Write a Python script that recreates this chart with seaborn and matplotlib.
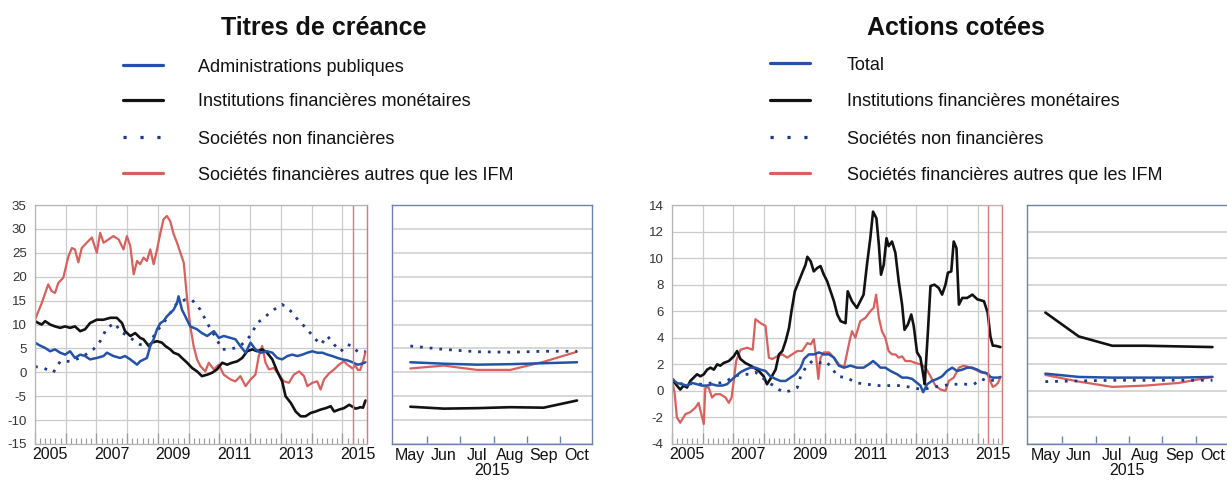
import numpy as np
import matplotlib
matplotlib.use("Agg")
import matplotlib.pyplot as plt
from matplotlib.lines import Line2D
from matplotlib.ticker import MultipleLocator, FuncFormatter, NullFormatter
import seaborn as sns

# ---------------- DATA ----------------
recent_months = ["May", "Jun", "Jul", "Aug", "Sep", "Oct"]
recent_t = [2015.33, 2015.42, 2015.50, 2015.58, 2015.67, 2015.75]

# ---- Titres de créance (debt securities) ----
debt_title = "Titres de créance"
debt_labels = ["Administrations publiques", "Institutions financières monétaires",
               "Sociétés non financières", "Sociétés financières autres que les IFM"]

debt_gov_t = [2005.00, 2005.16, 2005.33, 2005.49, 2005.65, 2005.82, 2005.98, 2006.14, 2006.30, 2006.47,
              2006.63, 2006.79, 2007.01, 2007.23, 2007.34, 2007.55, 2007.77, 2007.93, 2008.10, 2008.32,
              2008.42, 2008.64, 2008.75, 2008.86, 2008.97, 2009.08, 2009.18, 2009.29, 2009.40, 2009.51,
              2009.62, 2009.67, 2009.78, 2009.89, 2010.05, 2010.27, 2010.43, 2010.60, 2010.82, 2010.98,
              2011.14, 2011.36, 2011.52, 2011.68, 2011.85, 2012.01, 2012.17, 2012.34, 2012.55, 2012.72,
              2012.88, 2013.04, 2013.21, 2013.37, 2013.53, 2013.70, 2013.86, 2014.02, 2014.18, 2014.35,
              2014.51, 2014.67, 2014.84, 2015.00, 2015.16]
debt_gov_v = [6.2, 5.6, 5.1, 4.4, 4.8, 4.1, 3.7, 4.4, 3.0, 3.7,
              3.4, 2.7, 3.0, 3.4, 4.1, 3.4, 3.0, 3.4, 2.7, 1.6,
              2.3, 3.0, 5.5, 6.9, 9.0, 10.3, 10.7, 11.7, 12.4, 13.1,
              14.5, 15.9, 13.1, 11.7, 9.6, 9.0, 8.2, 7.6, 8.6, 7.2,
              7.6, 7.2, 6.9, 5.5, 4.1, 6.2, 4.8, 4.1, 4.4, 4.1,
              3.0, 2.7, 3.4, 3.7, 3.4, 3.7, 4.1, 4.4, 4.1, 4.1,
              3.7, 3.4, 3.0, 2.7, 2.5]
debt_gov_recent = [2.1, 1.8, 1.6, 1.7, 1.9, 2.1]

debt_mfi_t = [2005.00, 2005.11, 2005.22, 2005.33, 2005.49, 2005.65, 2005.82, 2005.98, 2006.14, 2006.30,
              2006.47, 2006.63, 2006.79, 2007.01, 2007.23, 2007.45, 2007.66, 2007.83, 2007.93, 2008.10,
              2008.26, 2008.42, 2008.53, 2008.70, 2008.80, 2008.97, 2009.13, 2009.24, 2009.40, 2009.51,
              2009.67, 2009.78, 2009.95, 2010.11, 2010.27, 2010.43, 2010.60, 2010.76, 2010.92, 2011.09,
              2011.25, 2011.41, 2011.58, 2011.74, 2011.90, 2012.07, 2012.23, 2012.39, 2012.55, 2012.72,
              2012.88, 2013.04, 2013.15, 2013.32, 2013.48, 2013.64, 2013.80, 2013.97, 2014.13, 2014.29,
              2014.46, 2014.62, 2014.73, 2014.89, 2015.05, 2015.22]
debt_mfi_v = [10.7, 10.3, 10.0, 10.7, 10.0, 9.6, 9.3, 9.6, 9.3, 9.6,
              8.6, 9.0, 10.3, 11.0, 11.0, 11.4, 11.4, 10.3, 8.6, 7.6,
              8.2, 7.2, 6.9, 5.5, 6.2, 6.5, 6.2, 5.5, 4.8, 4.1,
              3.7, 3.0, 2.0, 0.9, 0.2, -0.8, -0.5, -0.1, 0.6, 2.0,
              1.6, 2.0, 2.3, 3.0, 4.4, 4.8, 4.4, 4.8, 4.1, 2.7,
              0.2, -1.9, -5.0, -6.4, -8.2, -9.2, -9.2, -8.5, -8.2, -7.8,
              -7.5, -7.1, -8.2, -7.8, -7.5, -6.8]
debt_mfi_recent = [-7.2, -7.6, -7.5, -7.3, -7.4, -5.9]

debt_nfc_t = [2005.00, 2005.27, 2005.60, 2005.82, 2006.20, 2006.58, 2006.90, 2007.12, 2007.34, 2007.60,
              2007.77, 2008.10, 2008.42, 2008.70, 2008.91, 2009.18, 2009.40, 2009.62, 2009.89, 2010.10,
              2010.38, 2010.60, 2010.82, 2011.09, 2011.36, 2011.68, 2012.00, 2012.23, 2012.50, 2012.77,
              2013.04, 2013.32, 2013.59, 2013.86, 2014.08, 2014.30, 2014.51, 2014.73, 2014.95, 2015.16]
debt_nfc_v = [1.2, 0.9, 0.0, 2.3, 2.3, 3.4, 4.8, 6.5, 9.3, 10.3,
              8.6, 7.2, 5.8, 5.5, 8.2, 10.3, 12.4, 14.5, 15.2, 15.2,
              13.1, 10.3, 7.9, 4.8, 4.8, 5.5, 7.6, 10.3, 11.7, 13.1,
              14.2, 12.8, 10.7, 9.0, 7.2, 5.8, 7.6, 5.8, 4.4, 5.8]
debt_nfc_recent = [5.5, 4.8, 4.3, 4.2, 4.4, 4.4]

debt_ofi_t = [2005.00, 2005.22, 2005.43, 2005.54, 2005.65, 2005.76, 2005.92, 2006.09, 2006.20, 2006.30,
              2006.41, 2006.52, 2006.68, 2006.85, 2007.01, 2007.12, 2007.23, 2007.39, 2007.55, 2007.72,
              2007.88, 2007.99, 2008.10, 2008.21, 2008.32, 2008.42, 2008.53, 2008.64, 2008.75, 2008.86,
              2008.97, 2009.08, 2009.18, 2009.29, 2009.40, 2009.51, 2009.62, 2009.73, 2009.84, 2009.95,
              2010.05, 2010.16, 2010.27, 2010.38, 2010.54, 2010.65, 2010.82, 2010.98, 2011.14, 2011.36,
              2011.52, 2011.68, 2011.85, 2012.01, 2012.17, 2012.28, 2012.39, 2012.50, 2012.61, 2012.77,
              2012.93, 2013.10, 2013.26, 2013.42, 2013.59, 2013.75, 2013.86, 2014.02, 2014.18, 2014.29,
              2014.40, 2014.57, 2014.73, 2014.89, 2015.05, 2015.16]
debt_ofi_v = [11.0, 14.5, 18.4, 17.0, 16.6, 18.7, 19.8, 24.3, 26.0, 25.7,
              23.0, 26.0, 27.1, 28.2, 25.0, 29.2, 27.1, 27.8, 28.5, 27.8,
              25.7, 28.5, 26.4, 20.5, 23.3, 22.6, 24.0, 23.3, 25.7, 22.6,
              25.7, 29.2, 32.0, 32.7, 31.6, 28.9, 27.1, 25.0, 22.9, 15.2,
              9.7, 5.5, 2.7, 1.3, 0.2, 2.0, 0.6, 1.6, -0.5, -1.5,
              -1.9, -0.8, -2.9, -1.5, -0.5, 3.4, 5.5, 2.0, 0.6, 0.9,
              -0.5, -1.9, -2.2, -0.5, 0.2, -0.8, -2.9, -2.2, -1.9, -3.6,
              -1.5, -0.2, 0.6, 1.6, 2.3, 1.6]
debt_ofi_recent = [0.8, 1.4, 0.5, 0.5, 2.2, 4.3]

# ---- Actions cotées (listed shares) ----
eq_title = "Actions cotées"
eq_labels = ["Total", "Institutions financières monétaires",
             "Sociétés non financières", "Sociétés financières autres que les IFM"]

eq_tot_t = [2005.00, 2005.16, 2005.33, 2005.49, 2005.66, 2005.82, 2005.98, 2006.15, 2006.31, 2006.47,
            2006.64, 2006.80, 2006.91, 2007.08, 2007.24, 2007.40, 2007.57, 2007.73, 2007.90, 2008.06,
            2008.22, 2008.39, 2008.55, 2008.72, 2008.88, 2009.04, 2009.21, 2009.32, 2009.48, 2009.65,
            2009.81, 2009.97, 2010.14, 2010.30, 2010.46, 2010.63, 2010.84, 2011.05, 2011.27, 2011.44,
            2011.58, 2011.71, 2011.82, 2011.98, 2012.15, 2012.37, 2012.53, 2012.70, 2012.86, 2013.02,
            2013.13, 2013.22, 2013.35, 2013.51, 2013.68, 2013.84, 2014.00, 2014.17, 2014.33, 2014.50,
            2014.66, 2014.82, 2014.99, 2015.15]
eq_tot_v = [0.9, 0.6, 0.5, 0.4, 0.6, 0.5, 0.4, 0.4, 0.5, 0.4,
            0.4, 0.5, 0.75, 1.1, 1.4, 1.6, 1.75, 1.75, 1.6, 1.5,
            1.1, 0.9, 0.75, 0.75, 1.0, 1.25, 1.75, 2.4, 2.75, 2.75,
            2.9, 2.75, 2.75, 2.5, 1.9, 1.75, 1.9, 1.75, 1.75, 2.0,
            2.25, 2.0, 1.75, 1.75, 1.5, 1.25, 1.0, 1.0, 0.9, 0.6,
            0.4, -0.1, 0.5, 0.75, 0.9, 1.1, 1.5, 1.75, 1.5, 1.6,
            1.75, 1.75, 1.6, 1.4]
eq_tot_recent = [1.3, 1.05, 1.0, 1.0, 1.0, 1.05]

eq_mfi_t = [2005.00, 2005.16, 2005.27, 2005.38, 2005.49, 2005.60, 2005.71, 2005.82, 2005.93, 2006.04,
            2006.15, 2006.26, 2006.37, 2006.48, 2006.58, 2006.69, 2006.86, 2007.02, 2007.13, 2007.24,
            2007.40, 2007.57, 2007.68, 2007.84, 2008.00, 2008.11, 2008.22, 2008.39, 2008.50, 2008.61,
            2008.72, 2008.83, 2008.91, 2009.02, 2009.15, 2009.28, 2009.37, 2009.43, 2009.54, 2009.64,
            2009.75, 2009.86, 2009.97, 2010.08, 2010.19, 2010.30, 2010.41, 2010.52, 2010.68, 2010.75,
            2010.89, 2011.05, 2011.16, 2011.27, 2011.38, 2011.49, 2011.58, 2011.69, 2011.77, 2011.84,
            2011.93, 2012.02, 2012.09, 2012.20, 2012.31, 2012.42, 2012.53, 2012.61, 2012.72, 2012.83,
            2012.91, 2013.02, 2013.13, 2013.22, 2013.27, 2013.37, 2013.46, 2013.59, 2013.73, 2013.84,
            2013.95, 2014.03, 2014.14, 2014.22, 2014.31, 2014.39, 2014.50, 2014.66, 2014.83, 2014.99,
            2015.21]
eq_mfi_v = [0.9, 0.4, 0.1, 0.4, 0.25, 0.75, 1.0, 1.25, 1.1, 1.25,
            1.6, 1.75, 1.6, 2.0, 1.9, 2.1, 2.25, 2.6, 3.0, 2.4,
            2.1, 1.9, 1.75, 1.5, 1.1, 0.5, 0.9, 1.6, 2.75, 3.0,
            3.75, 4.75, 6.0, 7.5, 8.25, 9.0, 9.5, 10.1, 9.75, 9.0,
            9.25, 9.4, 8.75, 8.25, 7.5, 6.75, 5.75, 5.25, 5.1, 7.5,
            6.75, 6.25, 6.75, 7.25, 9.5, 11.5, 13.5, 13.0, 11.0, 8.75,
            9.5, 11.5, 10.9, 11.25, 10.4, 8.25, 6.5, 4.6, 5.0, 5.75,
            4.9, 2.9, 2.5, 1.25, 0.5, 4.25, 7.9, 8.0, 7.75, 7.25,
            8.0, 8.9, 9.0, 11.25, 10.75, 6.5, 7.0, 7.0, 7.25, 6.9,
            6.75]
eq_mfi_recent = [5.9, 4.1, 3.4, 3.4, 3.35, 3.3]

eq_nfc_t = [2005.00, 2005.22, 2005.44, 2005.71, 2005.98, 2006.31, 2006.58, 2006.80, 2007.02, 2007.30,
            2007.57, 2007.73, 2007.95, 2008.17, 2008.33, 2008.50, 2008.66, 2008.85, 2009.10, 2009.21,
            2009.37, 2009.59, 2009.81, 2009.97, 2010.19, 2010.41, 2010.70, 2011.05, 2011.38, 2011.77,
            2012.10, 2012.48, 2012.86, 2013.19, 2013.51, 2013.84, 2014.22, 2014.55, 2014.88, 2015.15]
eq_nfc_v = [0.9, 0.5, 0.6, 0.5, 0.5, 0.6, 0.6, 0.75, 1.1, 1.25,
            1.25, 1.4, 1.0, 0.6, 0.4, 0.1, -0.1, 0.0, 0.25, 1.1,
            1.75, 2.25, 2.1, 2.25, 1.9, 1.1, 1.0, 0.6, 0.5, 0.4,
            0.4, 0.4, 0.25, 0.1, 0.25, 0.4, 0.5, 0.5, 0.5, 0.9]
eq_nfc_recent = [0.7, 0.75, 0.8, 0.8, 0.8, 0.8]

eq_ofi_t = [2005.00, 2005.09, 2005.16, 2005.27, 2005.44, 2005.60, 2005.77, 2005.87, 2005.96, 2006.04,
            2006.09, 2006.20, 2006.31, 2006.42, 2006.58, 2006.75, 2006.86, 2006.95, 2007.02, 2007.10,
            2007.24, 2007.46, 2007.64, 2007.73, 2007.90, 2008.06, 2008.17, 2008.28, 2008.44, 2008.61,
            2008.77, 2008.93, 2009.10, 2009.26, 2009.43, 2009.54, 2009.64, 2009.72, 2009.79, 2009.86,
            2009.97, 2010.14, 2010.30, 2010.46, 2010.63, 2010.81, 2010.89, 2011.00, 2011.16, 2011.33,
            2011.49, 2011.60, 2011.68, 2011.77, 2011.87, 2011.98, 2012.09, 2012.20, 2012.31, 2012.42,
            2012.53, 2012.64, 2012.80, 2012.97, 2013.13, 2013.30, 2013.46, 2013.62, 2013.79, 2013.95,
            2014.06, 2014.22, 2014.39, 2014.55, 2014.77, 2014.93, 2015.10, 2015.26]
eq_ofi_v = [0.9, -0.25, -2.0, -2.4, -1.75, -1.6, -1.25, -0.9, -1.75, -2.5,
            0.25, 0.25, -0.5, -0.25, -0.25, -0.5, -0.9, -0.5, 0.75, 2.25,
            3.1, 3.25, 3.1, 5.4, 5.1, 4.9, 2.5, 2.4, 2.6, 2.75,
            2.5, 2.75, 3.0, 3.0, 3.6, 3.5, 3.9, 2.5, 0.9, 2.5,
            2.9, 2.9, 2.5, 2.0, 1.75, 3.75, 4.5, 4.0, 5.25, 5.5,
            6.0, 6.25, 7.25, 5.5, 4.5, 4.0, 3.0, 2.75, 2.75, 2.5,
            2.6, 2.25, 2.25, 2.1, 2.0, 1.75, 1.1, 0.4, 0.1, 0.0,
            0.75, 1.0, 1.75, 1.9, 1.75, 1.6, 1.4, 1.4]
eq_ofi_recent = [1.2, 0.7, 0.3, 0.4, 0.6, 1.05]

# ---------------- STYLE ----------------
sns.set_style("white")
plt.rcParams['font.family'] = ['Liberation Sans', 'DejaVu Sans']
plt.rcParams['axes.unicode_minus'] = False

BLUE = '#2452a8'
NAVY = '#1d3a8a'
BLACK = '#121212'
RED = '#d9605c'
GRID = '#cbcbcb'
FRAME = '#b5b5b5'
FRAME_IN = '#6e81ad'
HIL = '#d97878'
DOT = (0, (1, 2.5))

styles = [dict(color=BLUE, linestyle='-', linewidth=1.8),
          dict(color=BLACK, linestyle='-', linewidth=1.9),
          dict(color=NAVY, linestyle=DOT, linewidth=2.0),
          dict(color=RED, linestyle='-', linewidth=1.6)]
draw_order = [3, 1, 2, 0]

W, H = 1227, 480
fig = plt.figure(figsize=(W / 100, H / 100), dpi=100)


def rect(x0, x1, y0=205, y1=444):
    return [x0 / W, 1 - y1 / H, (x1 - x0) / W, (y1 - y0) / H]


def year_label(x, pos):
    yr = int(round(x - 0.5))
    if abs(x - yr - 0.5) < 0.02 and yr % 2 == 1:
        return str(yr)
    return ""


def draw_main(ax, ts, vs, recents, ylim, ystep):
    for i in draw_order:
        sns.lineplot(x=list(ts[i]) + recent_t, y=list(vs[i]) + recents[i], ax=ax,
                     estimator=None, sort=False, legend=False, **styles[i])
    ax.set_xlim(2005, 2015.8)
    ax.set_ylim(*ylim)
    ax.xaxis.set_major_locator(MultipleLocator(1))
    ax.xaxis.set_minor_locator(MultipleLocator(1 / 6))
    ax.xaxis.set_major_formatter(NullFormatter())
    ax.xaxis.set_minor_formatter(FuncFormatter(year_label))
    ax.yaxis.set_major_locator(MultipleLocator(ystep))
    ax.grid(True, which='major', color=GRID, linewidth=0.9)
    ax.set_axisbelow(True)
    ax.tick_params(axis='x', which='major', bottom=True, direction='in', length=8,
                   width=0.9, color='#9a9a9a')
    ax.tick_params(axis='x', which='minor', bottom=True, direction='in', length=4,
                   width=0.8, color='#9a9a9a', labelsize=11.5, pad=2, labelcolor='#111111')
    ax.tick_params(axis='y', length=0, labelsize=9.5, pad=6, labelcolor='#333333')
    for s in ['left', 'top', 'bottom']:
        ax.spines[s].set_color(FRAME)
        ax.spines[s].set_linewidth(0.9)
    ax.spines['right'].set_color(HIL)
    ax.spines['right'].set_linewidth(1.0)
    ax.axvline(recent_t[0], color=HIL, linewidth=1.0)
    ax.set_xlabel("")
    ax.set_ylabel("")


def draw_inset(ax, recents, ylim, ystep):
    pos = np.arange(len(recent_months))
    for i in draw_order:
        sns.lineplot(x=pos, y=recents[i], ax=ax, estimator=None, sort=False,
                     legend=False, **styles[i])
    ax.set_xlim(-0.55, len(recent_months) - 0.55)
    ax.set_ylim(*ylim)
    ax.set_xticks(pos, recent_months)
    ax.set_xticks(pos[:-1] + 0.5, minor=True)
    ax.tick_params(axis='x', which='major', length=0, labelsize=11.5, pad=11.5,
                   labelcolor='#111111')
    for lab in ax.get_xticklabels():
        lab.set_verticalalignment('baseline')
    ax.tick_params(axis='x', which='minor', bottom=True, direction='in', length=6,
                   width=1.0, color=FRAME_IN)
    ax.yaxis.set_major_locator(MultipleLocator(ystep))
    ax.yaxis.set_major_formatter(NullFormatter())
    ax.tick_params(axis='y', length=0)
    ax.grid(True, axis='y', color=GRID, linewidth=1.1)
    ax.set_axisbelow(True)
    for s in ax.spines.values():
        s.set_color(FRAME_IN)
        s.set_linewidth(1.0)
    ax.set_ylabel("")
    ax.set_xlabel("2015", fontsize=11.5, labelpad=0, color='#111111')


def draw_legend(labels, hx0, hx1, tx, rows):
    for i, (lab, y) in enumerate(zip(labels, rows)):
        st = dict(styles[i])
        st['linewidth'] = 2.3
        if i == 2:
            st['linestyle'] = (0, (1, 4.3))
        fig.add_artist(Line2D([hx0 / W, hx1 / W], [1 - y / H, 1 - y / H],
                              transform=fig.transFigure, **st))
        fig.text(tx / W, 1 - y / H, lab, ha='left', va='center_baseline',
                 fontsize=13, color='#111111')


# ---- left chart ----
ax1 = fig.add_axes(rect(35, 367))
draw_main(ax1, [debt_gov_t, debt_mfi_t, debt_nfc_t, debt_ofi_t],
          [debt_gov_v, debt_mfi_v, debt_nfc_v, debt_ofi_v],
          [debt_gov_recent, debt_mfi_recent, debt_nfc_recent, debt_ofi_recent],
          (-15, 35), 5)
ax2 = fig.add_axes(rect(392, 592))
draw_inset(ax2, [debt_gov_recent, debt_mfi_recent, debt_nfc_recent, debt_ofi_recent],
           (-15, 35), 5)

# ---- right chart ----
ax3 = fig.add_axes(rect(672, 1002))
draw_main(ax3, [eq_tot_t, eq_mfi_t, eq_nfc_t, eq_ofi_t],
          [eq_tot_v, eq_mfi_v, eq_nfc_v, eq_ofi_v],
          [eq_tot_recent, eq_mfi_recent, eq_nfc_recent, eq_ofi_recent],
          (-4, 14), 2)
ax4 = fig.add_axes(rect(1027, 1227.5))
draw_inset(ax4, [eq_tot_recent, eq_mfi_recent, eq_nfc_recent, eq_ofi_recent],
           (-4, 14), 2)

# ---- titles and legends ----
fig.text(324 / W, 1 - 35 / H, debt_title, ha='center', va='baseline',
         fontsize=18, fontweight='bold', color='#111111')
fig.text(956 / W, 1 - 35 / H, eq_title, ha='center', va='baseline',
         fontsize=18, fontweight='bold', color='#111111')
draw_legend(debt_labels, 123, 163, 198, [65, 100, 137, 173])
draw_legend(eq_labels, 770, 810, 847, [63, 100, 137, 173])

fig.savefig("out.png", dpi=100)
